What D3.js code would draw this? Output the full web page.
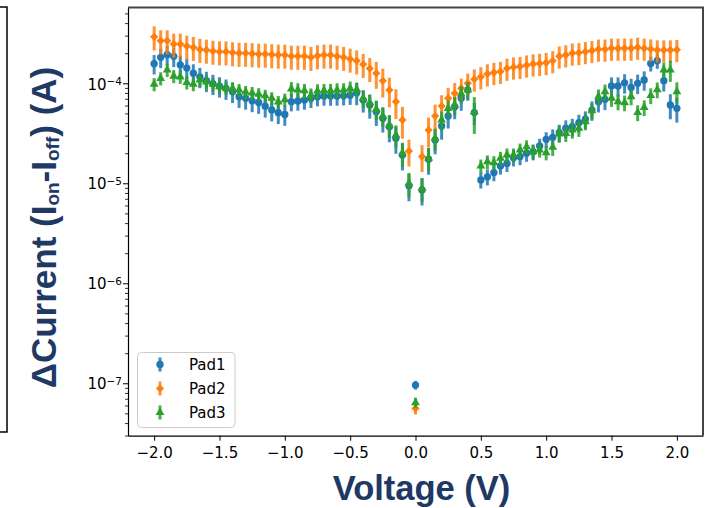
<!DOCTYPE html>
<html>
<head>
<meta charset="utf-8">
<script src="https://cdn.jsdelivr.net/npm/d3@7"></script>
<style>
  body { margin: 0; background: #fff; }
  svg { display: block; }
</style>
</head>
<body>
<svg id="chart" width="717" height="508"></svg>
<script>

// voltage sweep (V)
var voltage = [
  -2.0, -1.95, -1.9, -1.85, -1.8, -1.75, -1.7, -1.65, -1.6, -1.55,
  -1.5, -1.45, -1.4, -1.35, -1.3, -1.25, -1.2, -1.15, -1.1, -1.05,
  -1.0, -0.95, -0.9, -0.85, -0.8, -0.75, -0.7, -0.65, -0.6, -0.55,
  -0.5, -0.45, -0.4, -0.35, -0.3, -0.25, -0.2, -0.15, -0.1, -0.05,
  0.0,
  0.05, 0.1, 0.15, 0.2, 0.25, 0.3, 0.35, 0.4, 0.45, 0.5,
  0.55, 0.6, 0.65, 0.7, 0.75, 0.8, 0.85, 0.9, 0.95, 1.0,
  1.05, 1.1, 1.15, 1.2, 1.25, 1.3, 1.35, 1.4, 1.45, 1.5,
  1.55, 1.6, 1.65, 1.7, 1.75, 1.8, 1.85, 1.9, 1.95, 2.0
];

// delta current (A)
var pad1 = [
  1.57e-4, 1.82e-4, 1.93e-4, 1.86e-4, 1.53e-4, 1.42e-4, 1.26e-4, 1.16e-4, 1.06e-4, 9.9e-5,
  9.35e-5, 8.87e-5, 8.24e-5, 7.35e-5, 7.08e-5, 6.68e-5, 6.43e-5, 5.9e-5, 5.41e-5, 5.08e-5,
  4.88e-5, 6.55e-5, 6.65e-5, 6.8e-5, 7.08e-5, 7.35e-5, 7.46e-5, 7.46e-5, 7.46e-5, 7.5e-5,
  7.6e-5, 8.05e-5, 6.8e-5, 6.07e-5, 5.2e-5, 4.47e-5, 3.68e-5, 2.82e-5, 1.92e-5, 9.46e-6,
  9.6e-8,
  8.57e-6, 1.74e-5, 2.71e-5, 3.74e-5, 4.71e-5, 5.83e-5, 7.08e-5, 8.57e-5, 5.1e-5, 1.08e-5,
  1.16e-5, 1.28e-5, 1.49e-5, 1.58e-5, 1.8e-5, 1.85e-5, 2.0e-5, 2.07e-5, 2.36e-5, 2.75e-5,
  2.88e-5, 3.21e-5, 3.55e-5, 3.68e-5, 4.04e-5, 4.37e-5, 5.4e-5, 6.55e-5, 6.92e-5, 9.4e-5,
  9.4e-5, 1.01e-4, 9.1e-5, 1.0e-4, 1.08e-4, 1.58e-4, 1.68e-4, 1.06e-4, 6.07e-5, 5.62e-5
];
var pad2 = [
  2.92e-4, 2.67e-4, 2.67e-4, 2.47e-4, 2.47e-4, 2.36e-4, 2.29e-4, 2.19e-4, 2.15e-4, 2.1e-4,
  2.07e-4, 2.07e-4, 2.03e-4, 2.0e-4, 2.0e-4, 1.98e-4, 1.96e-4, 1.96e-4, 1.94e-4, 1.92e-4,
  1.92e-4, 1.87e-4, 1.87e-4, 1.87e-4, 1.82e-4, 1.89e-4, 1.92e-4, 1.92e-4, 1.87e-4, 1.82e-4,
  1.75e-4, 1.68e-4, 1.55e-4, 1.41e-4, 1.26e-4, 1.06e-4, 8.57e-5, 6.55e-5, 4.3e-5, 2.1e-5,
  5.6e-8,
  1.85e-5, 3.41e-5, 4.71e-5, 5.93e-5, 7.08e-5, 7.94e-5, 8.91e-5, 1.0e-4, 1.1e-4, 1.16e-4,
  1.24e-4, 1.28e-4, 1.31e-4, 1.41e-4, 1.45e-4, 1.47e-4, 1.52e-4, 1.56e-4, 1.58e-4, 1.61e-4,
  1.68e-4, 1.87e-4, 1.92e-4, 2.0e-4, 2.02e-4, 2.07e-4, 2.12e-4, 2.19e-4, 2.19e-4, 2.24e-4,
  2.24e-4, 2.24e-4, 2.24e-4, 2.29e-4, 2.24e-4, 2.2e-4, 2.15e-4, 2.15e-4, 2.15e-4, 2.17e-4
];
var pad3 = [
  9.8e-5, 1.12e-4, 1.36e-4, 1.18e-4, 1.16e-4, 1.02e-4, 9.8e-5, 1.08e-4, 1.03e-4, 9.8e-5,
  9.27e-5, 9.0e-5, 8.9e-5, 8.57e-5, 8.18e-5, 8.0e-5, 7.78e-5, 7.5e-5, 7.08e-5, 6.5e-5,
  6.86e-5, 8.8e-5, 8.57e-5, 8.43e-5, 7.6e-5, 8.37e-5, 8.43e-5, 8.43e-5, 8.57e-5, 8.57e-5,
  8.9e-5, 8.7e-5, 7.08e-5, 6.4e-5, 5.5e-5, 4.71e-5, 3.83e-5, 3.04e-5, 2.0e-5, 1.0e-5,
  6.4e-8,
  8.9e-6, 1.78e-5, 2.82e-5, 4.3e-5, 5.62e-5, 6.07e-5, 7.82e-5, 8.57e-5, 5.2e-5, 1.49e-5,
  1.64e-5, 1.61e-5, 1.78e-5, 1.92e-5, 1.92e-5, 2.15e-5, 2.32e-5, 2.07e-5, 2.15e-5, 2.02e-5,
  2.29e-5, 3.11e-5, 3.16e-5, 3.41e-5, 3.55e-5, 4.13e-5, 5.32e-5, 7.35e-5, 8.24e-5, 7.08e-5,
  6.55e-5, 6.4e-5, 7.35e-5, 5.1e-5, 5.73e-5, 7.55e-5, 8.65e-5, 1.36e-4, 1.36e-4, 8.24e-5
];

// error as a fraction of the value
var pad1Err = [
  0.22, 0.22, 0.22, 0.22, 0.23, 0.23, 0.23, 0.23, 0.23, 0.23,
  0.23, 0.23, 0.23, 0.23, 0.23, 0.23, 0.23, 0.23, 0.23, 0.23,
  0.23, 0.2, 0.2, 0.2, 0.2, 0.2, 0.2, 0.2, 0.2, 0.2,
  0.2, 0.25, 0.25, 0.27, 0.28, 0.28, 0.3, 0.3, 0.3, 0.3,
  0.1,
  0.3, 0.3, 0.28, 0.27, 0.25, 0.25, 0.25, 0.22, 0.25, 0.18,
  0.18, 0.18, 0.18, 0.18, 0.18, 0.18, 0.18, 0.18, 0.18, 0.18,
  0.2, 0.2, 0.2, 0.2, 0.2, 0.2, 0.22, 0.22, 0.22, 0.22,
  0.22, 0.22, 0.22, 0.22, 0.22, 0.17, 0.17, 0.22, 0.28, 0.28
];
var pad2Err = [
  0.27, 0.27, 0.27, 0.27, 0.27, 0.27, 0.27, 0.27, 0.27, 0.27,
  0.27, 0.27, 0.27, 0.27, 0.27, 0.27, 0.27, 0.27, 0.27, 0.27,
  0.27, 0.27, 0.27, 0.27, 0.27, 0.27, 0.27, 0.27, 0.27, 0.27,
  0.27, 0.27, 0.27, 0.27, 0.3, 0.32, 0.33, 0.33, 0.35, 0.3,
  0.13,
  0.3, 0.33, 0.3, 0.28, 0.27, 0.27, 0.25, 0.25, 0.25, 0.25,
  0.25, 0.25, 0.25, 0.25, 0.25, 0.25, 0.25, 0.25, 0.25, 0.25,
  0.25, 0.25, 0.25, 0.25, 0.25, 0.25, 0.25, 0.25, 0.25, 0.25,
  0.25, 0.25, 0.25, 0.25, 0.25, 0.25, 0.25, 0.25, 0.25, 0.25
];
var pad3Err = [
  0.15, 0.15, 0.15, 0.15, 0.15, 0.15, 0.15, 0.15, 0.15, 0.15,
  0.15, 0.15, 0.15, 0.15, 0.15, 0.15, 0.15, 0.15, 0.15, 0.15,
  0.15, 0.17, 0.17, 0.17, 0.17, 0.17, 0.17, 0.17, 0.17, 0.17,
  0.17, 0.17, 0.2, 0.2, 0.22, 0.22, 0.25, 0.25, 0.27, 0.27,
  0.12,
  0.27, 0.25, 0.25, 0.22, 0.2, 0.2, 0.2, 0.2, 0.4, 0.16,
  0.16, 0.16, 0.16, 0.16, 0.16, 0.16, 0.16, 0.16, 0.16, 0.16,
  0.18, 0.18, 0.18, 0.18, 0.18, 0.18, 0.18, 0.18, 0.18, 0.18,
  0.18, 0.18, 0.18, 0.18, 0.18, 0.18, 0.18, 0.18, 0.24, 0.24
];

var seriesNames = ["Pad1", "Pad2", "Pad3"];
var xTicks = [-2.0, -1.5, -1.0, -0.5, 0.0, 0.5, 1.0, 1.5, 2.0];
var yTicks = [1e-7, 1e-6, 1e-5, 1e-4];


// build series from the arrays
var colors = ["#1f77b4", "#ff7f0e", "#2ca02c"];
var shapes = ["circle", "diamond", "triangle"];
var series = [pad1, pad2, pad3].map(function(vals, i) {
    var errs = [pad1Err, pad2Err, pad3Err][i];
    return {
        name: seriesNames[i],
        color: colors[i],
        shape: shapes[i],
        points: vals.map(function(v, j) {
            return {v: voltage[j], i: v, lo: v * (1 - errs[j]), hi: v * (1 + errs[j])};
        })
    };
});

var tickFont = "'DejaVu Sans', sans-serif";
var labelFont = "'Liberation Sans', Arial, sans-serif";
var navy = "#203864";

var svg = d3.select("#chart");

// plot frame (note: "top" is taken by window.top, so prefix everything)
var plotLeft = 128, plotRight = 703, plotTop = 7.5, plotBottom = 435.7;

var x = d3.scaleLinear().domain([-2.2, 2.2]).range([plotLeft, plotRight]);
var y = d3.scaleLog().domain([2.99e-8, 5.73e-4]).range([plotBottom, plotTop]);

// clipped box from the neighbouring panel at the far left
svg.append("path")
    .attr("d", "M0,7 H7 V432 H0")
    .attr("fill", "none")
    .attr("stroke", "#000")
    .attr("stroke-width", 1.5);

// marker generator
function markerPath(shape) {
    if (shape == "circle") return d3.symbol().type(d3.symbolCircle).size(42)();
    if (shape == "diamond") return d3.symbol().type(d3.symbolSquare).size(34)();
    return d3.symbol().type(d3.symbolTriangle).size(34)();
}
function markerRotate(shape) {
    return shape == "diamond" ? " rotate(45)" : "";
}

// error bars + markers, one series after the other
var plot = svg.append("g");
series.forEach(function(s) {
    var g = plot.append("g").attr("class", "series");

    g.selectAll("line")
        .data(s.points)
        .enter()
        .append("line")
        .attr("x1", function(d) { return x(d.v); })
        .attr("x2", function(d) { return x(d.v); })
        .attr("y1", function(d) { return y(d.lo); })
        .attr("y2", function(d) { return y(d.hi); })
        .attr("stroke", s.color)
        .attr("stroke-opacity", 0.85)
        .attr("stroke-width", 3);

    g.selectAll("path")
        .data(s.points)
        .enter()
        .append("path")
        .attr("d", markerPath(s.shape))
        .attr("transform", function(d) {
            return "translate(" + x(d.v) + "," + y(d.i) + ")" + markerRotate(s.shape);
        })
        .attr("fill", s.color);
});

// x axis
var xAxis = svg.append("g")
    .attr("transform", "translate(0," + plotBottom + ")")
    .call(d3.axisBottom(x).tickValues(xTicks).tickSize(5).tickPadding(7).tickSizeOuter(0)
        .tickFormat(d3.format(".1f")));
xAxis.select(".domain").attr("stroke", "#000").attr("stroke-width", 1.2);
xAxis.selectAll(".tick line").attr("stroke", "#000").attr("stroke-width", 1);
xAxis.selectAll(".tick text")
    .attr("font-family", tickFont)
    .attr("font-size", "15px")
    .attr("fill", "#000");

// y axis, minor ticks first
var minor = y.ticks().filter(function(t) {
    var e = Math.log10(t);
    return Math.abs(e - Math.round(e)) > 1e-6;
});
var yMinor = svg.append("g")
    .attr("transform", "translate(" + plotLeft + ",0)")
    .call(d3.axisLeft(y).tickValues(minor).tickSize(3).tickFormat("").tickSizeOuter(0));
yMinor.select(".domain").remove();
yMinor.selectAll(".tick line").attr("stroke", "#000").attr("stroke-width", 0.8);

var yAxis = svg.append("g")
    .attr("transform", "translate(" + plotLeft + ",0)")
    .call(d3.axisLeft(y).tickValues(yTicks).tickSize(5).tickSizeOuter(0).tickFormat(""));
yAxis.select(".domain").attr("stroke", "#000").attr("stroke-width", 1.2);
yAxis.selectAll(".tick line").attr("stroke", "#000").attr("stroke-width", 1);

// 10^n labels with superscript
yAxis.selectAll(".tick")
    .append("text")
    .attr("x", -6)
    .attr("y", 5.7)
    .attr("text-anchor", "end")
    .attr("font-family", tickFont)
    .attr("font-size", "15px")
    .attr("fill", "#000")
    .each(function(d) {
        var t = d3.select(this);
        t.append("tspan").text("10");
        t.append("tspan")
            .attr("font-size", "10.5px")
            .attr("dy", -4.5)
            .text("\u2212" + Math.abs(Math.round(Math.log10(d))));
    });

// top and right spines
svg.append("path")
    .attr("d", "M" + plotLeft + "," + plotTop + " H" + plotRight + " V" + plotBottom)
    .attr("fill", "none")
    .attr("stroke", "#444")
    .attr("stroke-width", 2);

// legend
var legend = svg.append("g").attr("transform", "translate(137.5,352.5)");
legend.append("rect")
    .attr("width", 97.5)
    .attr("height", 75)
    .attr("rx", 4)
    .attr("fill", "#fff")
    .attr("fill-opacity", 0.8)
    .attr("stroke", "#ccc")
    .attr("stroke-width", 1);

var items = legend.selectAll("g.item")
    .data(series)
    .enter()
    .append("g")
    .attr("class", "item")
    .attr("transform", function(d, i) { return "translate(22.5," + (12 + i * 24) + ")"; });
items.append("line")
    .attr("y1", -7).attr("y2", 7)
    .attr("stroke", function(d) { return d.color; })
    .attr("stroke-opacity", 0.85)
    .attr("stroke-width", 3);
items.append("path")
    .attr("d", function(d) { return markerPath(d.shape); })
    .attr("transform", function(d) { return markerRotate(d.shape); })
    .attr("fill", function(d) { return d.color; });
items.append("text")
    .attr("x", 29)
    .attr("y", 5.5)
    .attr("font-family", tickFont)
    .attr("font-size", "15px")
    .attr("fill", "#000")
    .text(function(d) { return d.name; });

// axis titles
svg.append("text")
    .attr("x", 421.5)
    .attr("y", 500)
    .attr("text-anchor", "middle")
    .attr("font-family", labelFont)
    .attr("font-weight", "bold")
    .attr("font-size", "34.5px")
    .attr("fill", navy)
    .text("Voltage (V)");

var yTitle = svg.append("text")
    .attr("transform", "translate(56,227.5) rotate(-90)")
    .attr("text-anchor", "middle")
    .attr("font-family", labelFont)
    .attr("font-weight", "bold")
    .attr("font-size", "35px")
    .attr("fill", navy);
yTitle.append("tspan").text("\u0394Current (I");
yTitle.append("tspan").attr("font-size", "19px").attr("dy", 3).text("on");
yTitle.append("tspan").attr("dy", -3).text("-I");
yTitle.append("tspan").attr("font-size", "19px").attr("dy", 3).text("off");
yTitle.append("tspan").attr("dy", -3).text(") (A)");

</script>
</body>
</html>
